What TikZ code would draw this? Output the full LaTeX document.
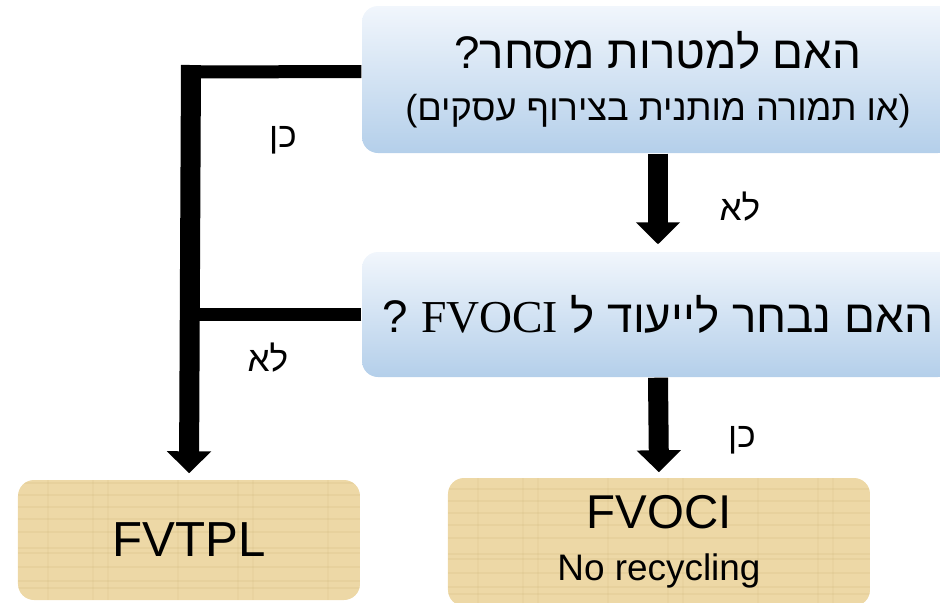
\documentclass[tikz,border=0pt]{standalone}
\usepackage{fontspec}
\setmainfont{Liberation Sans}
\newfontfamily\hebfont[Script=Hebrew]{Liberation Sans}
\newfontfamily\serfont{Liberation Serif}
\TeXXeTstate=1
\usetikzlibrary{arrows.meta}
\definecolor{qtop}{RGB}{241,246,252}
\definecolor{qmid}{RGB}{204,222,241}
\definecolor{qbot}{RGB}{180,207,234}
\definecolor{papyrus}{RGB}{237,216,166}
\definecolor{fibre}{RGB}{205,178,118}

\begin{document}
\begin{tikzpicture}[
    question/.style={rounded corners=0.16cm, top color=qtop, middle color=qmid,
      bottom color=qbot, align=center, inner sep=0pt},
    answer/.style={rounded corners=0.16cm, fill=papyrus, align=center, inner sep=0pt,
      path picture={
        \foreach \f in {0.12,0.19,0.33,0.47,0.52,0.68,0.81,0.93,1.05,1.17}
          \draw[fibre, opacity=0.18, line width=0.6pt]
            ([yshift=\f cm]path picture bounding box.south west) -- ++(4.5,0);
        \foreach \f in {0.3,0.75,0.9,1.6,2.2,2.35,3.1,3.7,3.85}
          \draw[fibre, opacity=0.12, line width=0.8pt]
            ([xshift=\f cm]path picture bounding box.south west) -- ++(0,1.4);
      }},
    bigarrow/.style={line width=0.2cm, -{Triangle[width=0.43cm,length=0.22cm]}},
    hline/.style={line width=0.13cm},
    reply/.style={font=\hebfont\fontsize{10}{12}\selectfont}
  ]
  \useasboundingbox (0,0) rectangle (9.40,6.02);

  % draw questions
  \node[question, minimum width=5.92cm, minimum height=1.47cm] (trade) at (6.58,5.225)
    {{\hebfont\fontsize{13}{16}\selectfont\beginR האם למטרות מסחר?\endR}\\[0.1cm]
     {\hebfont\fontsize{10.3}{12}\selectfont\beginR(או תמורה מותנית בצירוף עסקים)\endR}};
  \node[question, minimum width=5.92cm, minimum height=1.25cm] (elect) at (6.58,2.875)
    {\hebfont\fontsize{13}{16}\selectfont\beginR האם נבחר לייעוד ל \beginL{\serfont FVOCI}\endL{} ?\endR};

  % draw results
  \node[answer, minimum width=3.42cm, minimum height=1.20cm] (fvtpl) at (1.89,0.62)
    {\fontsize{14}{16}\selectfont FVTPL};
  \node[answer, minimum width=4.22cm, minimum height=1.28cm] (fvoci) at (6.59,0.60)
    {\fontsize{13.5}{16}\selectfont FVOCI\\[0.1cm]\fontsize{10.5}{12}\selectfont No recycling};

  % draw connectors
  \coordinate (knee) at (1.91,5.30);
  \draw[hline] ([yshift=0.08cm]trade.west) -- (knee);
  \draw[hline] (elect.west) -- (elect.west -| knee);
  \draw[bigarrow] ([yshift=0.07cm]knee) -- ([yshift=0.06cm]fvtpl.north);
  \draw[bigarrow] (trade.south) -- ([yshift=0.07cm]elect.north);
  \draw[bigarrow] (elect.south) -- ([yshift=0.05cm]fvoci.north);

  % draw replies
  \node[reply] (yes1) at (2.83,4.62) {\beginR כן\endR};
  \node[reply] (no2)  at (2.68,2.44) {\beginR לא\endR};
  \node[reply] (no1)  at (7.40,3.95) {\beginR לא\endR};
  \node[reply] (yes2) at (7.42,1.62) {\beginR כן\endR};
\end{tikzpicture}
\end{document}
